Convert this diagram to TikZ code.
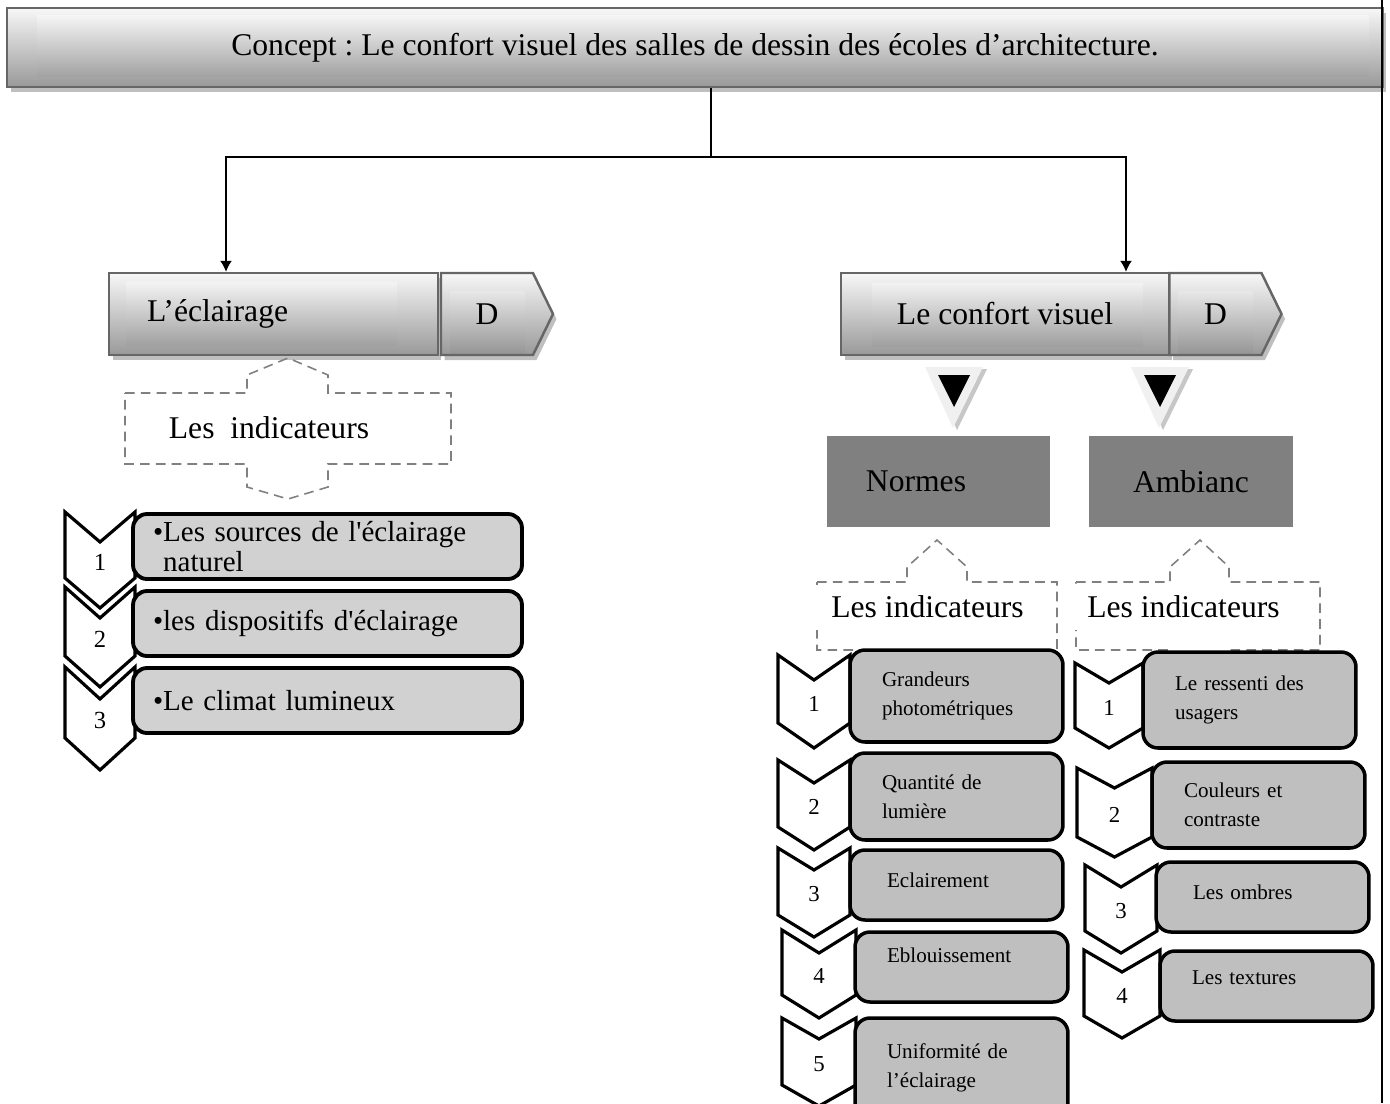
\documentclass[tikz,border=0pt]{standalone}
\usepackage{fontspec}
\setmainfont{Liberation Serif}
\frenchspacing
\usetikzlibrary{positioning,shapes,shapes.symbols,shadows,arrows.meta}
\tikzstyle{head}=[draw=black!60, line width=1.4pt, top color=black!3, bottom color=black!40, drop shadow={shadow xshift=0.07cm, shadow yshift=-0.1cm, fill=black!25, opacity=1}, font=\fontsize{18}{21}\selectfont]
\tikzstyle{dtag}=[head, signal, signal to=east, signal pointer angle=128, minimum width=2.24cm, minimum height=1.64cm]
\tikzstyle{grp}=[fill=black!50, minimum height=1.82cm, font=\fontsize{18}{21}\selectfont]
\tikzstyle{lbl}=[fill=white, inner xsep=0.42cm, minimum height=0.9cm, font=\fontsize{18}{21}\selectfont]
\tikzstyle{ind}=[draw=black!50, line width=0.9pt, dash pattern=on 5.5pt off 3.5pt]
\tikzstyle{itm}=[draw, line width=2.2pt, fill=black!18, rounded corners=0.28cm, minimum width=7.78cm, minimum height=1.3cm, inner xsep=0.4cm, inner ysep=0pt, text width=6.98cm, align=left, font=\fontsize{16.5}{17}\selectfont]
\tikzstyle{itm1}=[draw, line width=2pt, fill=black!25, rounded corners=0.3cm, minimum width=4.26cm, inner xsep=0.64cm, inner ysep=0pt, text width=2.98cm, align=left, font=\fontsize{12}{16.5}\selectfont]
\tikzstyle{chv}=[draw, line width=1.8pt, fill=white]
\tikzstyle{num}=[inner sep=0pt, font=\fontsize{14}{16}\selectfont]
\tikzstyle{num1}=[inner sep=0pt, font=\fontsize{13}{15}\selectfont]
\tikzset{inset/.style n args={4}{path picture={\shade[top color=white, bottom color=black!42] ([xshift=#1, yshift=-#2]path picture bounding box.north west) rectangle ([xshift=-#3, yshift=#4]path picture bounding box.south east);}}}
% chevron: number style, name, centre x, top y, half width, height, notch depth, number
\newcommand{\chevron}[8]{%
  \draw[chv] (#3-#5,#4) -- (#3,#4+#7) -- (#3+#5,#4) -- (#3+#5,#4+#6-#7) -- (#3,#4+#6) -- (#3-#5,#4+#6-#7) -- cycle;
  \node[#1] (#2) at (#3,#4+#6/2+2) {#8};}

\begin{document}
\begin{tikzpicture}[x=0.02cm, y=-0.02cm, >={Latex[length=0.22cm,width=0.24cm]}]
\clip (0,0) rectangle (1390,1103);

\node[head, inset={0.6cm}{0.14cm}{0.28cm}{0.22cm}, minimum width=27.52cm, minimum height=1.58cm] (concept) at (695,47.5) {Concept : Le confort visuel des salles de dessin des écoles d’architecture.};

\node[head, inset={0.34cm}{0.18cm}{0.82cm}{0.2cm}, minimum width=6.58cm, minimum height=1.64cm, text width=5.06cm, align=left] (ecl) at (273.5,314) {L’éclairage};
\node[dtag, inset={0.18cm}{0.36cm}{0.56cm}{0.04cm}] (d1) at (487,314) {D};

\node[head, inset={0.62cm}{0.2cm}{0.52cm}{0.18cm}, minimum width=6.56cm, minimum height=1.64cm] (conf) at (1005,314) {Le confort visuel};
\node[dtag, inset={0.18cm}{0.36cm}{0.58cm}{0.04cm}] (d2) at (1215.5,314) {D};

% connectors
\coordinate (split) at (711,157);
\coordinate (lft) at (226,157);
\coordinate (rgt) at (1126,157);
\draw[line width=0.8pt] (concept.south -| split) -- (split);
\draw[->,line width=0.8pt] (split) -| (ecl.north -| lft);
\draw[->,line width=0.8pt] (split) -| (conf.north -| rgt);

% small triangles
\fill[black!22] (929,369) -- (987,369) -- (957,430) -- cycle;
\fill[black!6] (925,367) -- (983,367) -- (953,428) -- cycle;
\fill (938,375) -- (970,375) -- (954,407) -- cycle;
\fill[black!22] (1135,369) -- (1193,369) -- (1163,430) -- cycle;
\fill[black!6] (1131,367) -- (1189,367) -- (1159,428) -- cycle;
\fill (1144,375) -- (1176,375) -- (1160,407) -- cycle;

\node[grp, minimum width=4.46cm] (norm) at (938.5,481.5) {Normes\hspace*{0.9cm}};
\node[grp, minimum width=4.08cm] (amb) at (1191,481.5) {Ambianc};

% indicator frames
\draw[ind] (125,393) -- (247,393) -- (247,375) -- (288,358) -- (328,375) -- (328,393) -- (451,393) -- (451,464) -- (328,464) -- (328,487) -- (288,499) -- (247,487) -- (247,464) -- (125,464) -- cycle;
\draw[ind] (817,582) -- (907,582) -- (907,567) -- (937,540) -- (967,567) -- (967,582) -- (1057,582) -- (1057,650) -- (967,650) -- (967,672) -- (937,690) -- (907,672) -- (907,650) -- (817,650) -- cycle;
\draw[ind] (1076,582) -- (1170,582) -- (1170,567) -- (1200,540) -- (1229,567) -- (1229,582) -- (1320,582) -- (1320,650) -- (1229,650) -- (1229,672) -- (1200,690) -- (1170,672) -- (1170,650) -- (1076,650) -- cycle;
\node[lbl] (ind1) at (269,428) {Les\ \ indicateurs};
\node[lbl] (ind2) at (927.5,607) {Les indicateurs};
\node[lbl] (ind3) at (1183.5,607) {Les indicateurs};

% left list
\chevron{num}{l1}{100}{512}{35}{96}{30}{1}
\chevron{num}{l2}{100}{587}{35}{100}{31}{2}
\chevron{num}{l3}{100}{667}{35}{103}{32}{3}
\node[itm] (e1) at (327.5,546.5) {•Les sources de l\textquotesingle éclairage\\\hphantom{•}naturel};
\node[itm] (e2) at (327.5,623.5) {•les dispositifs d\textquotesingle éclairage};
\node[itm] (e3) at (327.5,700.5) {•Le climat lumineux};

% Normes list
\chevron{num1}{n1c}{814}{655}{36}{93}{25}{1}
\chevron{num1}{n2c}{814}{760}{36}{90}{23}{2}
\chevron{num1}{n3c}{814}{848}{36}{89}{22}{3}
\chevron{num1}{n4c}{819}{930}{37}{88}{23}{4}
\chevron{num1}{n5c}{819}{1018}{37}{88}{21}{5}
\node[itm1, minimum height=1.84cm] (n1) at (956.5,696) {Grandeurs\\photométriques};
\node[itm1, minimum height=1.74cm] (n2) at (956.5,796.5) {Quantité de\\lumière};
\node[itm1, minimum height=1.4cm, text depth=0.2cm] (n3) at (956.5,885) {\hspace*{0.1cm}Eclairement};
\node[itm1, minimum height=1.4cm, minimum width=4.22cm, text depth=0.48cm] (n4) at (961.5,967) {Eblouissement};
\node[itm1, minimum height=2cm, minimum width=4.22cm] (n5) at (961.5,1068) {Uniformité de\\l’éclairage};

% Ambiance list
\chevron{num1}{a1c}{1109}{663}{34}{85}{20}{1}
\chevron{num1}{a2c}{1114.5}{768}{37.5}{89}{20}{2}
\chevron{num1}{a3c}{1121}{865}{36}{88}{22}{3}
\chevron{num1}{a4c}{1122}{950}{38}{88}{22}{4}
\node[itm1, minimum height=1.92cm] (a1) at (1249.5,700) {Le ressenti des\\usagers};
\node[itm1, minimum height=1.72cm] (a2) at (1258.5,805) {Couleurs et\\contraste};
\node[itm1, minimum height=1.4cm, minimum width=4.22cm, text depth=0.2cm] (a3) at (1262.5,897) {\hspace*{0.1cm}Les ombres};
\node[itm1, minimum height=1.4cm, text depth=0.32cm] (a4) at (1266.5,986) {Les textures};

% page border
\draw[line width=1.5pt] (1382,0) -- (1382,1103);
\end{tikzpicture}
\end{document}
